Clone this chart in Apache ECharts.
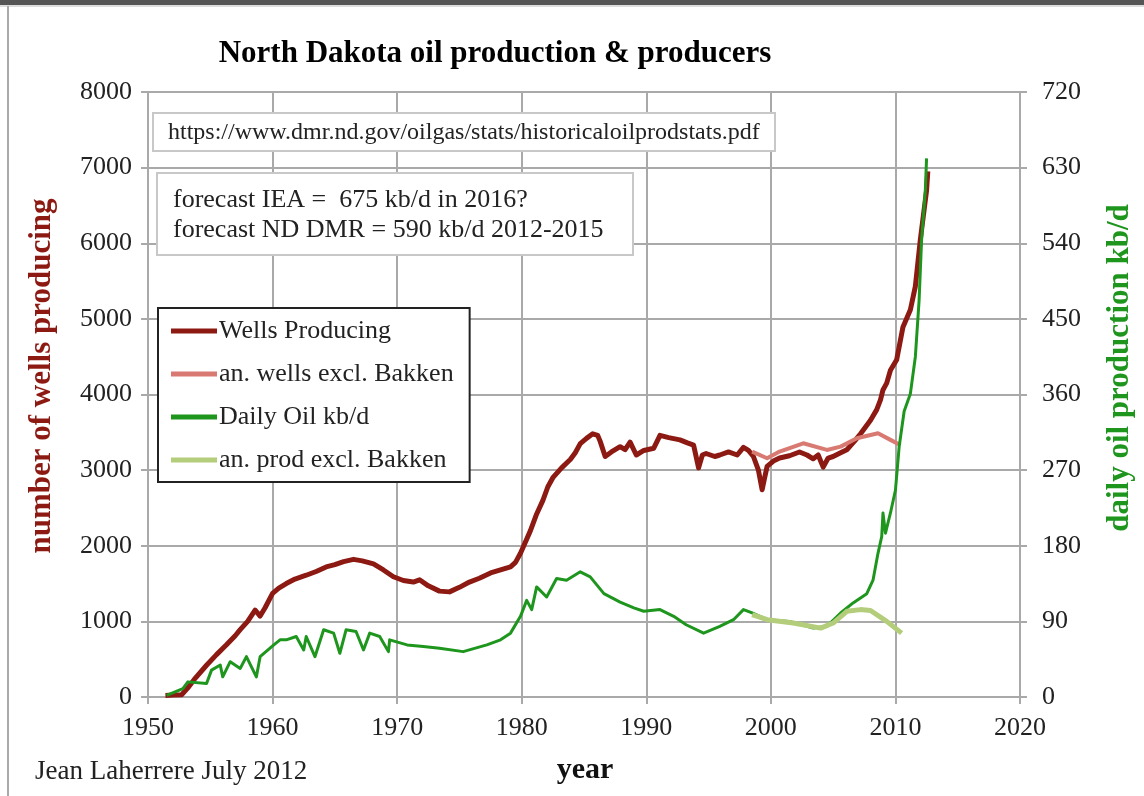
<!DOCTYPE html>
<html>
<head>
<meta charset="utf-8">
<script src="https://cdn.jsdelivr.net/npm/echarts@6/dist/echarts.min.js"></script>
<style>
  html, body { margin: 0; padding: 0; background: #fff; }
  #chart { width: 1144px; height: 796px; }
</style>
</head>
<body>
<div id="chart"></div>
<script>
// North Dakota: producing wells (left axis) and daily oil output in kb/d (right axis)
var yearTicks = [1950, 1960, 1970, 1980, 1990, 2000, 2010, 2020];

var wellsYears = [1951.4, 1952.0, 1952.7, 1953.2, 1953.8, 1954.7, 1955.5, 1956.3, 1957.0, 1957.4,
  1958.0, 1958.6, 1959.0, 1959.4, 1960.0, 1960.5, 1961.1, 1961.8, 1962.7, 1963.5,
  1964.3, 1965.0, 1965.7, 1966.5, 1967.2, 1968.1, 1968.9, 1969.7, 1970.5, 1971.3,
  1971.8, 1972.5, 1973.4, 1974.2, 1975.0, 1975.8, 1976.6, 1977.5, 1978.3, 1979.1,
  1979.5, 1979.9, 1980.3, 1980.7, 1981.2, 1981.7, 1982.1, 1982.5, 1983.2, 1983.9,
  1984.3, 1984.7, 1985.2, 1985.7, 1986.1, 1986.3, 1986.7, 1987.2, 1987.9, 1988.3,
  1988.7, 1989.2, 1989.8, 1990.6, 1991.1, 1991.8, 1992.7, 1993.3, 1993.8, 1994.2,
  1994.5, 1994.8, 1995.5, 1995.9, 1996.6, 1997.3, 1997.8, 1998.2, 1998.6, 1999.0,
  1999.3, 1999.5, 1999.7, 2000.2, 2000.7, 2001.5, 2002.3, 2002.9, 2003.4, 2003.8,
  2004.2, 2004.6, 2005.0, 2005.6, 2006.1, 2006.7, 2007.2, 2008.0, 2008.5, 2008.8,
  2009.0, 2009.3, 2009.6, 2010.1, 2010.6, 2011.2, 2011.6, 2012.0, 2012.5, 2012.6];
var wellsValues = [20, 25, 30, 120, 250, 420, 560, 690, 810, 890,
  1000, 1150, 1070, 1180, 1370, 1440, 1500, 1560, 1610, 1660,
  1720, 1750, 1790, 1820, 1800, 1760, 1680, 1590, 1540, 1520,
  1550, 1470, 1400, 1390, 1450, 1520, 1570, 1640, 1680, 1720,
  1780, 1900, 2050, 2200, 2420, 2600, 2780, 2900, 3030, 3140,
  3230, 3350, 3420, 3480, 3460, 3380, 3180, 3240, 3310, 3270,
  3370, 3200, 3260, 3290, 3460, 3430, 3400, 3360, 3330, 3030,
  3200, 3220, 3180, 3200, 3240, 3200, 3300, 3260, 3180, 3000,
  2740, 2900, 3050, 3120, 3160, 3190, 3240, 3200, 3150, 3200,
  3040, 3160, 3180, 3230, 3270, 3380, 3480, 3660, 3800, 3930,
  4060, 4150, 4320, 4460, 4890, 5120, 5430, 6050, 6700, 6950];

var exWellsYears = [1998.5, 1999.7, 2000.7, 2002.6, 2004.5, 2005.6, 2006.9, 2008.6, 2009.6, 2010.4];
var exWellsValues = [3245, 3157, 3245, 3355, 3267, 3311, 3421, 3488, 3400, 3333];

var oilYears = [1951.5, 1952.8, 1953.2, 1954.7, 1955.1, 1955.8, 1956.0, 1956.6, 1957.4, 1957.9,
  1958.7, 1959.0, 1960.1, 1960.6, 1961.1, 1961.9, 1962.5, 1962.7, 1963.4, 1964.1,
  1964.9, 1965.4, 1965.9, 1966.7, 1967.3, 1967.8, 1968.6, 1969.3, 1969.4, 1970.8,
  1972.1, 1973.4, 1975.3, 1977.2, 1978.3, 1979.1, 1979.9, 1980.4, 1980.8, 1981.2,
  1982.0, 1982.8, 1983.6, 1984.7, 1985.5, 1986.6, 1987.9, 1989.0, 1989.8, 1991.1,
  1992.2, 1993.2, 1994.6, 1995.9, 1997.0, 1997.8, 1998.5, 1999.7, 2001.5, 2003.4,
  2004.5, 2005.6, 2006.6, 2007.7, 2008.2, 2008.6, 2008.9, 2009.0, 2009.2, 2009.6,
  2010.0, 2010.3, 2010.7, 2011.2, 2011.6, 2011.9, 2012.1, 2012.4, 2012.5];
var oilValues = [2, 10, 18, 16, 32, 38, 24, 42, 34, 48,
  24, 48, 62, 68, 68, 72, 56, 72, 48, 80,
  76, 52, 80, 78, 56, 76, 72, 54, 68, 62,
  60, 58, 54, 62, 68, 76, 96, 115, 104, 131,
  119, 141, 139, 149, 143, 123, 113, 106, 102, 104,
  96, 86, 76, 84, 92, 104, 100, 92, 90, 82,
  84, 100, 112, 123, 139, 171, 191, 219, 195, 219,
  246, 298, 340, 361, 405, 472, 544, 603, 641];

var exOilYears = [1998.5, 1999.7, 2001.8, 2004.0, 2005.0, 2006.1, 2007.2, 2008.0, 2009.3, 2010.5];
var exOilValues = [98, 92, 88, 82, 88, 102, 104, 103, 90, 76];

function pairs(xs, ys) {
  return xs.map(function (x, i) { return [x, ys[i]]; });
}

var serif = 'Liberation Serif';
var gridColor = '#a9a9a9';
var wellsColor = '#8c1a12';
var oilColor = '#1e961e';

function plain(v) { return String(v); }

var chart = echarts.init(document.getElementById('chart'), null, { renderer: 'canvas' });

chart.setOption({
  backgroundColor: '#fff',
  animation: false,
  grid: { left: 148, right: 124, top: 92, bottom: 99 },
  xAxis: {
    type: 'value', min: 1950, max: 2020, interval: 10,
    axisLine: { show: true, lineStyle: { color: gridColor, width: 2 } },
    axisTick: { show: true, length: 7, lineStyle: { color: gridColor, width: 2 } },
    axisLabel: {
      margin: 18, color: '#222', fontFamily: serif, fontSize: 26,
      formatter: function (v) { return yearTicks.indexOf(v) >= 0 ? String(v) : ''; }
    },
    splitLine: { show: true, lineStyle: { color: gridColor, width: 2 } }
  },
  yAxis: [
    {
      type: 'value', min: 0, max: 8000, interval: 1000, position: 'left',
      axisLine: { show: true, lineStyle: { color: gridColor, width: 2 } },
      axisTick: { show: true, length: 7, lineStyle: { color: gridColor, width: 2 } },
      axisLabel: { margin: 16, color: '#222', fontFamily: serif, fontSize: 26, formatter: plain },
      splitLine: { show: true, lineStyle: { color: gridColor, width: 2 } }
    },
    {
      type: 'value', min: 0, max: 720, interval: 90, position: 'right',
      axisLine: { show: true, lineStyle: { color: gridColor, width: 2 } },
      axisTick: { show: true, length: 7, lineStyle: { color: gridColor, width: 2 } },
      axisLabel: { margin: 22, color: '#222', fontFamily: serif, fontSize: 26, formatter: plain },
      splitLine: { show: false }
    }
  ],
  legend: {
    orient: 'vertical', left: 158, top: 308,
    padding: [10, 16, 9, 13], itemGap: 17,
    itemWidth: 46, itemHeight: 5, icon: 'rect',
    backgroundColor: '#fff', borderColor: '#222', borderWidth: 2,
    textStyle: { fontFamily: serif, fontSize: 26, color: '#222', padding: [0, 0, 0, -3] },
    data: ['Wells Producing', 'an. wells excl. Bakken', 'Daily Oil kb/d', 'an. prod excl. Bakken']
  },
  series: [
    {
      name: 'Wells Producing', type: 'line', yAxisIndex: 0, symbol: 'none',
      data: pairs(wellsYears, wellsValues),
      lineStyle: { color: wellsColor, width: 5, join: 'round' }, itemStyle: { color: wellsColor }
    },
    {
      name: 'an. wells excl. Bakken', type: 'line', yAxisIndex: 0, symbol: 'none',
      data: pairs(exWellsYears, exWellsValues),
      lineStyle: { color: '#d97a72', width: 4, join: 'round' }, itemStyle: { color: '#d97a72' }
    },
    {
      name: 'Daily Oil kb/d', type: 'line', yAxisIndex: 1, symbol: 'none',
      data: pairs(oilYears, oilValues),
      lineStyle: { color: oilColor, width: 3, join: 'round' }, itemStyle: { color: oilColor }
    },
    {
      name: 'an. prod excl. Bakken', type: 'line', yAxisIndex: 1, symbol: 'none',
      data: pairs(exOilYears, exOilValues),
      lineStyle: { color: '#b3cd7b', width: 5, join: 'round' }, itemStyle: { color: '#b3cd7b' }
    }
  ],
  graphic: [
    // page frame
    { type: 'rect', z: 50, shape: { x: 0, y: 0, width: 1144, height: 5 }, style: { fill: '#555' }, silent: true },
    { type: 'rect', z: 50, shape: { x: 0, y: 5, width: 1144, height: 2 }, style: { fill: '#ddd' }, silent: true },
    { type: 'rect', z: 50, shape: { x: 7, y: 6, width: 2, height: 790 }, style: { fill: '#aaa' }, silent: true },
    // title
    { type: 'text', z: 50, position: [495, 54], style: { text: 'North Dakota oil production & producers', fontFamily: serif, fontWeight: 'bold', fontSize: 31, fill: '#000', align: 'center', verticalAlign: 'middle' } },
    // source box
    { type: 'rect', z: 50, shape: { x: 153, y: 113, width: 622, height: 38 }, style: { fill: '#fff', stroke: '#c8c8c8', lineWidth: 2 }, silent: true },
    { type: 'text', z: 51, position: [168, 133], style: { text: 'https://www.dmr.nd.gov/oilgas/stats/historicaloilprodstats.pdf', fontFamily: serif, fontSize: 24, fill: '#222', verticalAlign: 'middle' } },
    // forecast box
    { type: 'rect', z: 50, shape: { x: 157, y: 173, width: 476, height: 82 }, style: { fill: '#fff', stroke: '#c8c8c8', lineWidth: 2 }, silent: true },
    { type: 'text', z: 51, position: [173, 200], style: { text: 'forecast IEA =  675 kb/d in 2016?', fontFamily: serif, fontSize: 26, fill: '#222', verticalAlign: 'middle' } },
    { type: 'text', z: 51, position: [173, 230], style: { text: 'forecast ND DMR = 590 kb/d 2012-2015', fontFamily: serif, fontSize: 26, fill: '#222', verticalAlign: 'middle' } },
    // axis titles
    { type: 'text', z: 50, position: [42, 376], rotation: Math.PI / 2, style: { text: 'number of wells producing', fontFamily: serif, fontWeight: 'bold', fontSize: 31, fill: wellsColor, align: 'center', verticalAlign: 'middle' } },
    { type: 'text', z: 50, position: [1120, 368], rotation: Math.PI / 2, style: { text: 'daily oil production kb/d', fontFamily: serif, fontWeight: 'bold', fontSize: 31, fill: oilColor, align: 'center', verticalAlign: 'middle' } },
    { type: 'text', z: 50, position: [585, 770], style: { text: 'year', fontFamily: serif, fontWeight: 'bold', fontSize: 30, fill: '#111', align: 'center', verticalAlign: 'middle' } },
    { type: 'text', z: 50, position: [35, 772], style: { text: 'Jean Laherrere July 2012', fontFamily: serif, fontSize: 27, fill: '#222', verticalAlign: 'middle' } }
  ]
});
</script>
</body>
</html>
